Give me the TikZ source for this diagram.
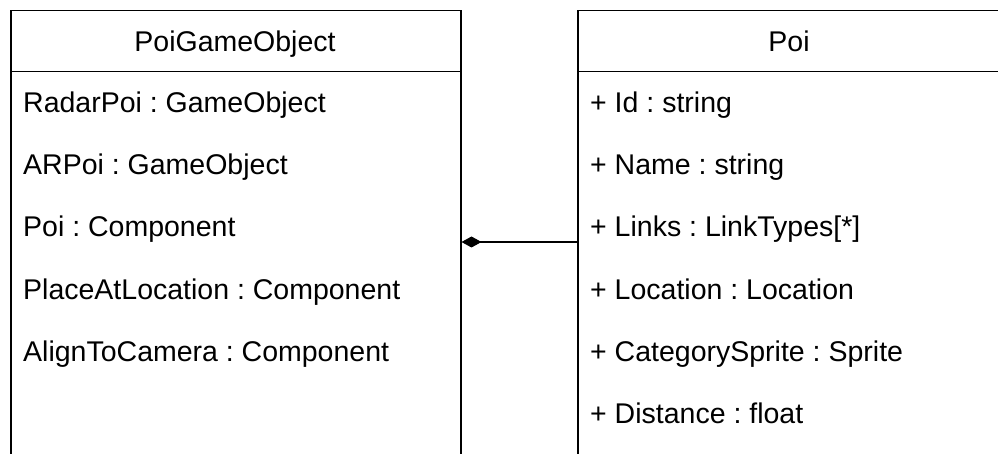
\documentclass[tikz,border=0pt]{standalone}
\usepackage{fontspec}
\setmainfont{Liberation Sans}
\usetikzlibrary{arrows.meta}
\frenchspacing
\begin{document}
\begin{tikzpicture}[x=1pt,y=-1pt,
  classbox/.style={draw,line width=1.5pt,rectangle,anchor=north west,inner sep=0pt},
  hdr/.style={font=\fontsize{28.5}{32}\selectfont,anchor=base,inner sep=0pt},
  attr/.style={font=\fontsize{28.5}{32}\selectfont,anchor=base west,inner sep=0pt}]
\useasboundingbox (0,0) rectangle (998,454);
% class boxes (they continue below the page)
\node[classbox,minimum width=450pt,minimum height=480pt] (pgo) at (10,10) {};
\node[classbox,minimum width=424pt,minimum height=480pt] (poi) at (577,10) {};
% header separators
\draw[line width=1.5pt] (pgo.north west |- 0,71.5) -- (pgo.north east |- 0,71.5);
\draw[line width=1.5pt] (poi.north west |- 0,71.5) -- (poi.north east |- 0,71.5);
% headers
\node[hdr] (pgoname) at (235,52) {PoiGameObject};
\node[hdr] (poiname) at (789,52) {Poi};
% PoiGameObject fields
\node[attr] (a1) at (23,113) {RadarPoi : GameObject};
\node[attr] (a2) at (23,175) {ARPoi : GameObject};
\node[attr] (a3) at (23,237) {Poi : Component};
\node[attr] (a4) at (23,299) {PlaceAtLocation : Component};
\node[attr] (a5) at (23,361.5) {AlignToCamera : Component};
% Poi fields
\node[attr] (b1) at (590,113) {+ Id : string};
\node[attr] (b2) at (590,175) {+ Name : string};
\node[attr] (b3) at (590,237) {+ Links : LinkTypes[*]};
\node[attr] (b4) at (590,299) {+ Location : Location};
\node[attr] (b5) at (590,361.5) {+ CategorySprite : Sprite};
\node[attr] (b6) at (590,423.5) {+ Distance : float};
% composition
\draw[line width=1.5pt,-{Diamond[length=20pt,width=11pt]}] (poi.west |- 0,242) -- (pgo.east |- 0,242);
\end{tikzpicture}
\end{document}
